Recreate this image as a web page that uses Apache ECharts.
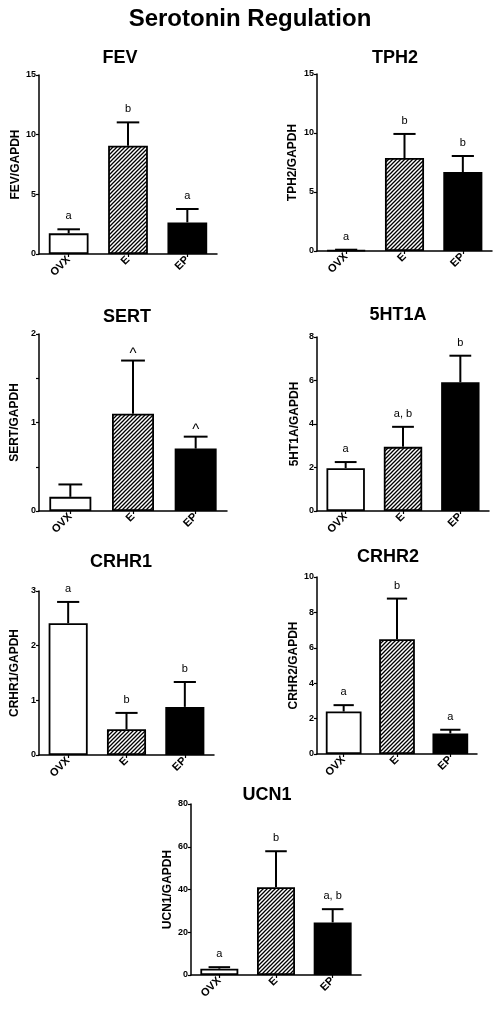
<!DOCTYPE html>
<html><head><meta charset="utf-8">
<script src="https://cdn.jsdelivr.net/npm/echarts@6/dist/echarts.min.js"></script>
<style>html,body{margin:0;padding:0;background:#fff}#c{width:501px;height:1010px}</style>
</head><body><div id="c"></div>
<script>
// ---------- data ----------
const categories = ['OVX', 'E', 'EP'];

const fevMean = [1.73, 9.08, 2.65];
const fevSem  = [0.34, 1.95, 1.12];
const fevSig  = ['a', 'b', 'a'];
const fevTicks = [0, 5, 10, 15];

const tph2Mean = [0.08, 7.88, 6.69];
const tph2Sem  = [0.03, 2.04, 1.36];
const tph2Sig  = ['a', 'b', 'b'];
const tph2Ticks = [0, 5, 10, 15];

const sertMean = [0.16, 1.10, 0.705];
const sertSem  = [0.14, 0.60, 0.135];
const sertSig  = ['', '^', '^'];
const sertTicks = [0, 0.5, 1, 1.5, 2];
const sertTickLabels = ['0', '', '1', '', '2'];

const ht1aMean = [1.97, 2.95, 5.92];
const ht1aSem  = [0.28, 0.92, 1.22];
const ht1aSig  = ['a', 'a, b', 'b'];
const ht1aTicks = [0, 2, 4, 6, 8];

const crhr1Mean = [2.41, 0.47, 0.88];
const crhr1Sem  = [0.39, 0.30, 0.455];
const crhr1Sig  = ['a', 'b', 'b'];
const crhr1Ticks = [0, 1, 2, 3];

const crhr2Mean = [2.40, 6.49, 1.16];
const crhr2Sem  = [0.36, 2.29, 0.21];
const crhr2Sig  = ['a', 'b', 'a'];
const crhr2Ticks = [0, 2, 4, 6, 8, 10];

const ucn1Mean = [2.96, 41.1, 24.6];
const ucn1Sem  = [0.7, 16.8, 6.2];
const ucn1Sig  = ['a', 'b', 'a, b'];
const ucn1Ticks = [0, 20, 40, 60, 80];

const mainTitle = 'Serotonin Regulation';

// ---------- layout ----------
const FONT = "'Liberation Sans', Arial, Helvetica, sans-serif";
const panels = [
  {name:'FEV',   mean:fevMean,   sem:fevSem,   sig:fevSig,   ticks:fevTicks,   grid:{left:39, top:75,  width:178, height:179}, tx:120, ty:58,  gap:17},
  {name:'TPH2',  mean:tph2Mean,  sem:tph2Sem,  sig:tph2Sig,  ticks:tph2Ticks,  grid:{left:317,top:74,  width:175, height:177}, tx:395, ty:58,  gap:18},
  {name:'SERT',  mean:sertMean,  sem:sertSem,  sig:sertSig,  ticks:sertTicks, tickLabels:sertTickLabels, grid:{left:39, top:334, width:188, height:177}, tx:127, ty:317, gap:18},
  {name:'5HT1A', mean:ht1aMean,  sem:ht1aSem,  sig:ht1aSig,  ticks:ht1aTicks,  grid:{left:317,top:337, width:172, height:174}, tx:398, ty:315, gap:16},
  {name:'CRHR1', mean:crhr1Mean, sem:crhr1Sem, sig:crhr1Sig, ticks:crhr1Ticks, grid:{left:39, top:591, width:175, height:164}, tx:121, ty:562, gap:18},
  {name:'CRHR2', mean:crhr2Mean, sem:crhr2Sem, sig:crhr2Sig, ticks:crhr2Ticks, grid:{left:317,top:577, width:160, height:177}, tx:388, ty:557, gap:16},
  {name:'UCN1',  mean:ucn1Mean,  sem:ucn1Sem,  sig:ucn1Sig,  ticks:ucn1Ticks,  grid:{left:191,top:804, width:170, height:171}, tx:267, ty:795, gap:17}
];

// hatch pattern
const pc = document.createElement('canvas');
pc.width = 4; pc.height = 4;
const g = pc.getContext('2d');
g.fillStyle = '#fff'; g.fillRect(0, 0, 4, 4);
g.strokeStyle = '#000'; g.lineWidth = 1.3;
g.beginPath();
g.moveTo(-1, 5); g.lineTo(5, -1);
g.moveTo(-1, 1); g.lineTo(1, -1);
g.moveTo(3, 5); g.lineTo(5, 3);
g.stroke();
const fills = ['#ffffff', {image: pc, repeat: 'repeat'}, '#000000'];

const grids = [], xAxes = [], yAxes = [], series = [], graphics = [];
graphics.push({type:'text', x:250, y:19, style:{text:mainTitle, align:'center', verticalAlign:'middle', fontSize:24, fontWeight:'bold', fontFamily:FONT, fill:'#000'}});

panels.forEach((p, i) => {
  grids.push(Object.assign({}, p.grid));
  graphics.push({type:'text', x:p.tx, y:p.ty, style:{text:p.name, align:'center', verticalAlign:'middle', fontSize:18, fontWeight:'bold', fontFamily:FONT, fill:'#000'}});
  xAxes.push({
    type:'category', gridIndex:i, data:categories,
    axisLine:{show:true, lineStyle:{color:'#000', width:1.5}},
    axisTick:{show:true, alignWithLabel:true, length:3, lineStyle:{color:'#000', width:1.2}},
    axisLabel:{rotate:45, fontSize:11, fontWeight:'bold', color:'#000', fontFamily:FONT, margin:4},
    splitLine:{show:false}
  });
  const t = p.ticks;
  const interval = t[1] - t[0];
  yAxes.push({
    type:'value', gridIndex:i, min:t[0], max:t[t.length-1], interval:interval,
    name: p.name + '/GAPDH', nameLocation:'middle', nameGap:p.gap,
    nameTextStyle:{fontSize:12, fontWeight:'bold', color:'#000', fontFamily:FONT},
    axisLine:{show:true, lineStyle:{color:'#000', width:1.5}},
    axisTick:{show:true, length:3, lineStyle:{color:'#000', width:1.2}},
    axisLabel:{fontSize:9, fontWeight:'bold', color:'#000', fontFamily:FONT, margin:3,
      formatter: (v) => {
        const k = t.findIndex(x => Math.abs(x - v) < 1e-9);
        if (p.tickLabels && k >= 0) return p.tickLabels[k];
        return String(v);
      }},
    splitLine:{show:false}
  });
  series.push({
    type:'bar', xAxisIndex:i, yAxisIndex:i, barWidth:'67%', animation:false,
    data: p.mean.map((v, k) => ({value:v, itemStyle:{color:fills[k], borderColor:'#000', borderWidth:1.8}})),
    z:2
  });
  const sig = p.sig;
  series.push({
    type:'custom', xAxisIndex:i, yAxisIndex:i, animation:false, z:3,
    data: p.mean.map((v, k) => [k, v, p.sem[k]]),
    renderItem: (params, api) => {
      const x = api.value(0), m = api.value(1), s = api.value(2);
      const b = api.coord([x, m]);
      const tp = api.coord([x, m + s]);
      const half = api.size([1, 0])[0] * 0.19;
      const txt = sig[params.dataIndex];
      const caret = txt === '^';
      return {type:'group', children:[
        {type:'line', shape:{x1:b[0], y1:b[1], x2:tp[0], y2:tp[1]}, style:{stroke:'#000', lineWidth:2}},
        {type:'line', shape:{x1:tp[0]-half, y1:tp[1], x2:tp[0]+half, y2:tp[1]}, style:{stroke:'#000', lineWidth:2}},
        {type:'text', x:tp[0], y:tp[1] - (caret ? 7 : 13), style:{text:txt, align:'center', verticalAlign:'middle', fontSize: caret ? 15 : 11, fontFamily:FONT, fill:'#000'}}
      ]};
    }
  });
});

const chart = echarts.init(document.getElementById('c'), null, {renderer:'canvas'});
chart.setOption({
  backgroundColor:'#fff',
  animation:false,
  grid:grids, xAxis:xAxes, yAxis:yAxes, series:series, graphic:graphics
});
</script>
</body></html>
